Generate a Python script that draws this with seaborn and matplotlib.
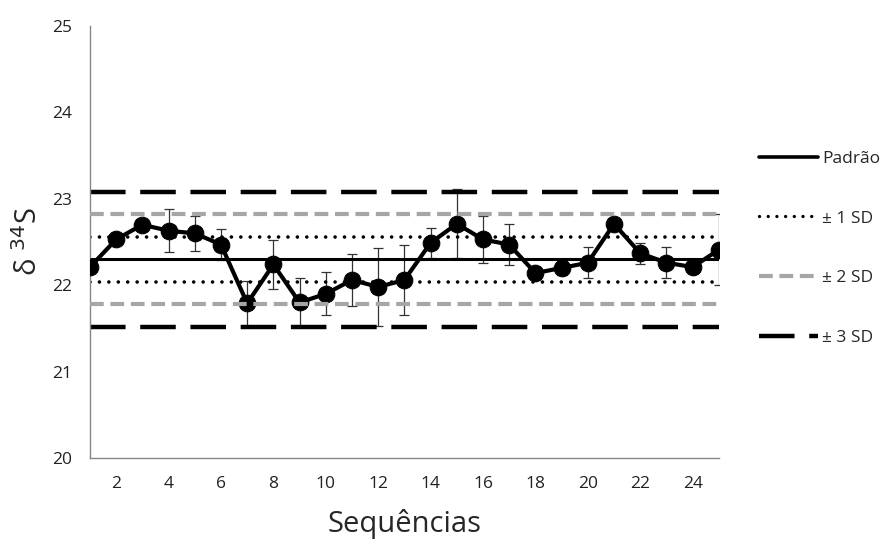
import numpy as np
import pandas as pd
import matplotlib
matplotlib.use("Agg")
import matplotlib.pyplot as plt
import seaborn as sns
from matplotlib.lines import Line2D

# data
sequencias = list(range(1, 26))
delta34s = [22.21, 22.53, 22.70, 22.63, 22.60, 22.47, 21.79, 22.24, 21.80, 21.90,
            22.06, 21.98, 22.06, 22.49, 22.71, 22.53, 22.47, 22.14, 22.20, 22.26,
            22.71, 22.37, 22.26, 22.21, 22.41]
erro = [0.0, 0.04, 0.05, 0.25, 0.20, 0.18, 0.26, 0.28, 0.28, 0.25,
        0.30, 0.45, 0.40, 0.17, 0.40, 0.27, 0.24, 0.06, 0.08, 0.18,
        0.06, 0.12, 0.18, 0.04, 0.41]
padrao = 22.30
sd = 0.26

df = pd.DataFrame({"seq": sequencias, "d34S": delta34s, "err": erro})

sns.set_style("white")
plt.rcParams['font.family'] = ['Open Sans', 'DejaVu Sans']

fig = plt.figure(figsize=(8.82, 5.42), dpi=100)
ax = fig.add_axes([0.102, 0.155, 0.713, 0.797])

# error bars
ax.errorbar(df["seq"], df["d34S"], yerr=df["err"], fmt="none", ecolor="#333333",
            elinewidth=0.9, capsize=3.5, capthick=0.9, zorder=2)

# series
sns.lineplot(data=df, x="seq", y="d34S", ax=ax, color="black", linewidth=3,
             marker="o", markersize=12, markeredgecolor="black", zorder=3,
             legend=False)

# control lines
ax.axhline(padrao, color="black", lw=2.2, zorder=2.5)
for s in (1, -1):
    ax.axhline(padrao + s * sd, color="black", lw=2.6, linestyle=(0, (0.01, 2.6)),
               dash_capstyle="round", zorder=2.5)
    ax.axhline(padrao + s * 2 * sd, color="#a6a6a6", lw=3, linestyle=(0, (3.3, 1.6)),
               zorder=4)
    ax.axhline(padrao + s * 3 * sd, color="black", lw=3.2, linestyle=(0, (8, 3.3)),
               zorder=2.5)

ax.set_xlim(1, 25)
ax.set_ylim(20, 25)
ax.set_xticks(range(1, 26), minor=True)
ax.set_xticks(range(2, 25, 2))
ax.set_yticks(range(20, 26))

for side in ("top", "right"):
    ax.spines[side].set_visible(False)
for side in ("left", "bottom"):
    ax.spines[side].set_color("#868686")
    ax.spines[side].set_linewidth(1)

ax.tick_params(axis="both", which="both", direction="out", color="#868686",
               length=5, width=1, labelsize=12.5, labelcolor="#222222")
ax.tick_params(axis="x", which="major", length=5, pad=8)
ax.tick_params(axis="y", pad=8)

ax.set_xlabel("Sequências", fontsize=21, labelpad=12)
ax.set_ylabel("δ $^{34}$S", fontsize=21, labelpad=6)

handles = [
    Line2D([], [], color="black", lw=2.6),
    Line2D([], [], color="black", lw=2.4, linestyle=(0, (0.01, 2.6)), dash_capstyle="round"),
    Line2D([], [], color="#a6a6a6", lw=3, linestyle=(0, (3.3, 1.6))),
    Line2D([], [], color="black", lw=3.2, linestyle=(0, (8, 3.3))),
]
labels = ["Padrão", "± 1 SD", "± 2 SD", "± 3 SD"]
ax.legend(handles, labels, loc="upper left", bbox_to_anchor=(1.045, 0.74),
          frameon=False, fontsize=12.5, handlelength=3.4, handletextpad=0.2,
          labelspacing=2.52, borderaxespad=0.3)

fig.savefig("out.png", dpi=100)
